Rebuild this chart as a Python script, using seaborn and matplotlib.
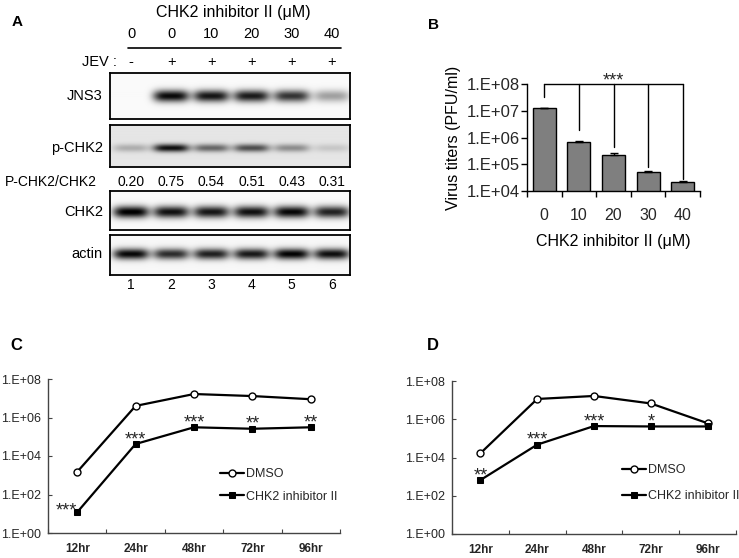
import numpy as np
import matplotlib
matplotlib.use('Agg')
import matplotlib.pyplot as plt
from matplotlib.lines import Line2D
from matplotlib.ticker import NullLocator
import seaborn as sns

W, H = 739, 558

# ---- panel A: western blot (band darkness 0..1 per lane)
doses_a = ['0', '0', '10', '20', '30', '40']
jev = ['-', '+', '+', '+', '+', '+']
ratios = ['0.20', '0.75', '0.54', '0.51', '0.43', '0.31']
lanes = ['1', '2', '3', '4', '5', '6']
jns3 = [0.0, 0.95, 0.9, 0.88, 0.78, 0.35]
pchk2 = [0.22, 0.85, 0.5, 0.6, 0.35, 0.12]
chk2 = [1.0, 0.92, 0.9, 0.92, 0.96, 0.85]
actin = [0.95, 0.8, 0.85, 0.88, 0.97, 0.92]

# ---- panel B: virus titers
doses_b = ['0', '10', '20', '30', '40']
titers = [1.26e7, 6.8e5, 2.2e5, 5.1e4, 2.2e4]
titer_err = [3e5, 5e4, 5e4, 4e3, 2e3]
bracket_ends = [3.2e7, 1.9e6, 4.4e5, 7.9e4, 2.8e4]

# ---- panels C, D: time course
hours = ['12hr', '24hr', '48hr', '72hr', '96hr']
c_dmso = [1.5e3, 4e6, 1.66e7, 1.3e7, 8.9e6]
c_inh = [12, 4.2e4, 3.1e5, 2.6e5, 3.1e5]
c_stars = ['***', '***', '***', '**', '**']
d_dmso = [1.66e4, 1.15e7, 1.65e7, 6.7e6, 6.2e5]
d_inh = [660, 4.7e4, 4.4e5, 4.2e5, 4.2e5]
d_stars = ['**', '***', '***', '*', '']

sns.set_theme(style='white')
plt.rcParams['font.family'] = ['Liberation Sans', 'DejaVu Sans']

fig = plt.figure(figsize=(W / 100, H / 100), dpi=100)
fig.patch.set_facecolor('white')


def px_axes(x0, y0, x1, y1):
    return fig.add_axes([x0 / W, 1 - y1 / H, (x1 - x0) / W, (y1 - y0) / H])


def ftext(x, y, s, **kw):
    kw.setdefault('va', 'center')
    fig.text(x / W, 1 - y / H, s, color='black', **kw)


# ================= A =================
lane_x = np.linspace(131, 332, 6)
ftext(12, 22, 'A', fontsize=11, fontweight='bold')
ftext(233, 12, 'CHK2 inhibitor II (\u03bcM)', ha='center', fontsize=11.5)
for x, d, j, r, n in zip(lane_x, doses_a, jev, ratios, lanes):
    ftext(x, 34, d, ha='center', fontsize=10.5)
    ftext(x, 62, j, ha='center', fontsize=10.5)
    ftext(x, 182, r, ha='center', fontsize=10)
    ftext(x, 285, n, ha='center', fontsize=10)
fig.add_artist(Line2D([128 / W, 341 / W], [1 - 48 / H] * 2, color='black', lw=1.2))
ftext(117, 62, 'JEV :', ha='right', fontsize=10.5)
ftext(5, 182, 'P-CHK2/CHK2', ha='left', fontsize=10)

blots = [
    ('JNS3', jns3, (110, 73, 350, 119), 96, 6.0, 0.02),
    ('p-CHK2', pchk2, (110, 125, 350, 167), 148, 4.0, 0.10),
    ('CHK2', chk2, (110, 191, 350, 230), 212, 6.0, 0.02),
    ('actin', actin, (110, 235, 350, 275), 254, 5.5, 0.03),
]
for name, vals, box, cy, hy, bg in blots:
    x0, y0, x1, y1 = box
    ax = px_axes(*box)
    xx, yy = np.meshgrid(np.linspace(x0, x1, 480), np.linspace(y0, y1, 100))
    img = np.full(xx.shape, bg)
    for cx, v in zip(lane_x, vals):
        img += v * np.exp(-((xx - cx) / 18.0) ** 4) * np.exp(-((yy - cy) / hy) ** 2)
    ax.imshow(np.clip(img, 0, 1), cmap='gray_r', vmin=0, vmax=1, aspect='auto',
              extent=(x0, x1, y1, y0), interpolation='bilinear')
    ax.set_xticks([])
    ax.set_yticks([])
    for s in ax.spines.values():
        s.set_color('black')
        s.set_linewidth(1.3)
    ftext(103, cy, name, ha='right', fontsize=10.5)

# ================= B =================
ftext(428, 25, 'B', fontsize=11, fontweight='bold')
axB = px_axes(527, 84, 700, 191)
sns.barplot(x=doses_b, y=titers, color='#7f7f7f', edgecolor='black', linewidth=1,
            width=0.67, saturation=1, ax=axB)
axB.errorbar(range(len(titers)), titers, yerr=[np.zeros(len(titer_err)), titer_err],
             fmt='none', ecolor='black', elinewidth=1, capsize=3)
axB.set_yscale('log')
axB.set_ylim(1e4, 1e8)
axB.set_xlim(-0.5, len(doses_b) - 0.5)
axB.set_yticks([1e4, 1e5, 1e6, 1e7, 1e8])
axB.set_yticklabels(['1.E+04', '1.E+05', '1.E+06', '1.E+07', '1.E+08'], fontsize=12)
axB.yaxis.set_minor_locator(NullLocator())
axB.set_xticks(range(len(doses_b)))
axB.set_xticklabels(doses_b, fontsize=11.5)
axB.set_xticks(np.arange(-0.5, len(doses_b), 1), minor=True)
axB.tick_params(axis='x', which='major', length=0, pad=12)
axB.tick_params(axis='x', which='minor', direction='out', length=4, width=1, color='black', bottom=True)
axB.tick_params(axis='y', which='major', direction='out', length=4, width=1, color='black', pad=1, left=True)
sns.despine(ax=axB)
for s in ['left', 'bottom']:
    axB.spines[s].set_color('black')
    axB.spines[s].set_linewidth(1)
axB.set_ylabel('Virus titers (PFU/ml)', fontsize=11.5, labelpad=4, color='black')
axB.set_xlabel('CHK2 inhibitor II (\u03bcM)', fontsize=11.5, labelpad=8, color='black')
axB.plot([0, len(doses_b) - 1], [1e8, 1e8], color='black', lw=1, clip_on=False)
for i, e in enumerate(bracket_ends):
    axB.plot([i, i], [1e8, e], color='black', lw=1, clip_on=False)
axB.annotate('***', (2, 1e8), xytext=(0, -1), textcoords='offset points',
             ha='center', va='baseline', fontsize=13, annotation_clip=False)


# ================= C, D =================
def time_panel(box, dmso, inh, stars, legend_xy, spacing):
    ax = px_axes(*box)
    xi = np.arange(len(hours))
    sns.lineplot(x=xi, y=dmso, ax=ax, color='black', lw=1.6, marker='o', markersize=5,
                 markerfacecolor='white', markeredgecolor='black', markeredgewidth=1,
                 label='DMSO')
    sns.lineplot(x=xi, y=inh, ax=ax, color='black', lw=1.6, marker='s', markersize=4.5,
                 markerfacecolor='black', markeredgecolor='black', label='CHK2 inhibitor II')
    ax.set_yscale('log')
    ax.set_ylim(1, 1e8)
    ax.set_xlim(-0.5, len(hours) - 0.5)
    ax.set_yticks([1, 1e2, 1e4, 1e6, 1e8])
    ax.set_yticklabels(['1.E+00', '1.E+02', '1.E+04', '1.E+06', '1.E+08'], fontsize=9)
    ax.yaxis.set_minor_locator(NullLocator())
    ax.set_xticks(xi)
    ax.set_xticklabels(hours, fontsize=8.5, fontweight='bold')
    ax.set_xticks(np.arange(-0.5, len(hours), 1), minor=True)
    ax.tick_params(axis='x', which='major', length=0, pad=7)
    ax.tick_params(axis='x', which='minor', direction='in', length=3, width=0.8, color='#444444', bottom=True)
    ax.tick_params(axis='y', which='major', direction='in', length=3, width=0.8, color='#444444', pad=5, left=True)
    sns.despine(ax=ax)
    for s in ['left', 'bottom']:
        ax.spines[s].set_color('#444444')
        ax.spines[s].set_linewidth(1)
    ax.set_xlabel('')
    ax.set_ylabel('')
    for i, (v, st) in enumerate(zip(inh, stars)):
        if not st:
            continue
        dx = -8 if (i == 0 and stars is c_stars) else 0
        dy = -2 if dx else 0
        ax.annotate(st, (i, v), xytext=(dx, dy), textcoords='offset points',
                    ha='center', va='baseline', fontsize=13)
    ax.legend(loc='upper left', bbox_to_anchor=(legend_xy[0] / W, 1 - legend_xy[1] / H),
              bbox_transform=fig.transFigure, frameon=False, fontsize=9,
              handlelength=1.9, handletextpad=0.2, labelspacing=spacing,
              borderpad=0, borderaxespad=0)
    return ax


ftext(10, 345, 'C', fontsize=12, fontweight='bold')
time_panel((48, 379, 340, 533), c_dmso, c_inh, c_stars, (220, 468), 0.85)
ftext(427, 345, 'D', fontsize=12, fontweight='bold')
time_panel((452, 381, 736, 534), d_dmso, d_inh, d_stars, (622, 464), 1.15)

fig.savefig('out.png', dpi=100, facecolor='white')
